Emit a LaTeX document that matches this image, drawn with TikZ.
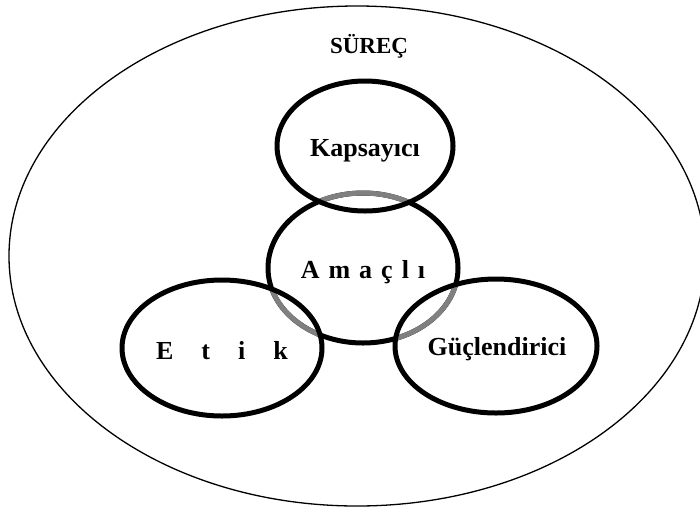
\documentclass[tikz,border=0pt]{standalone}
\usepackage{fontspec}
\setmainfont{Liberation Serif}
\usetikzlibrary{shapes.geometric}
\begin{document}
\begin{tikzpicture}[x=1pt,y=-1pt,
  ring/.style={draw=black, line width=5pt, ellipse, inner sep=0pt},
  word/.style={font=\fontsize{26}{28}\selectfont\bfseries, inner sep=0pt}]
\useasboundingbox (0,0) rectangle (700,512);

% outer process ellipse
\node[draw, line width=1.3pt, ellipse, inner sep=0pt,
      minimum width=696pt, minimum height=500pt] (proc) at (357,256) {};
\node[word, font=\fontsize{23}{25}\selectfont\bfseries] (proct) at (369,46) {SÜREÇ};

% centres of the four rings
\coordinate (ck) at (365,146);
\coordinate (ca) at (363,268);
\coordinate (ce) at (222,348);
\coordinate (cg) at (496,346);

% central ring, black outline
\node[ring, minimum width=190pt, minimum height=150pt] (amac) at (ca) {};

% parts of the central ring lying inside the others are grey
\begin{scope}
  \clip (ck) ellipse [x radius=88, y radius=65];
  \draw[gray, line width=5pt] (ca) ellipse [x radius=95, y radius=75];
\end{scope}
\begin{scope}
  \clip (ce) ellipse [x radius=100, y radius=68];
  \draw[gray, line width=5pt] (ca) ellipse [x radius=95, y radius=75];
\end{scope}
\begin{scope}
  \clip (cg) ellipse [x radius=101, y radius=67];
  \draw[gray, line width=5pt] (ca) ellipse [x radius=95, y radius=75];
\end{scope}

% outer rings
\node[ring, minimum width=176pt, minimum height=130pt] (kaps) at (ck) {};
\node[ring, minimum width=200pt, minimum height=136pt] (etik) at (ce) {};
\node[ring, minimum width=202pt, minimum height=134pt] (gucl) at (cg) {};

% labels
\node[word] (kapst) at (365,151) {Kapsayıcı};
\node[word] (amact) at (363,272) {A\hspace{9pt}m\hspace{9pt}a\hspace{9pt}ç\hspace{9pt}l\hspace{9pt}ı};
\node[word] (etikt) at (222,351) {E\hspace{28pt}t\hspace{28pt}i\hspace{28pt}k};
\node[word] (guclt) at (497,349) {Güçlendirici};
\end{tikzpicture}
\end{document}
